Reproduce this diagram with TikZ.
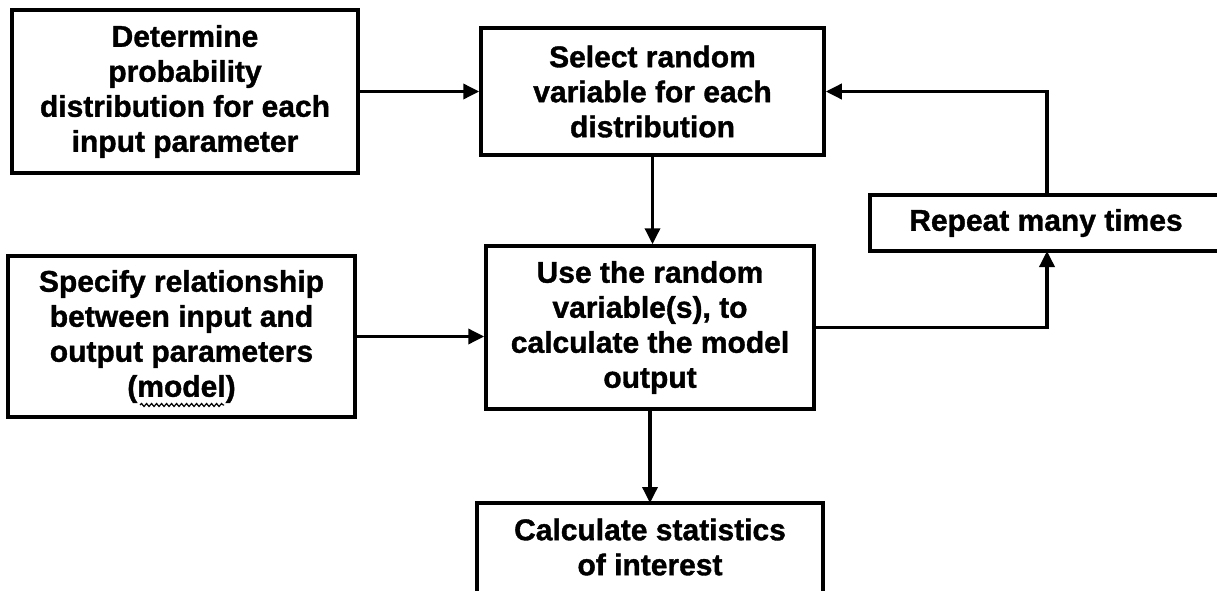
\documentclass[tikz,border=0pt]{standalone}
\usepackage{fontspec}
\setmainfont{Liberation Sans}[BoldFeatures={FakeBold=1.2}]
\usetikzlibrary{arrows.meta,decorations.pathmorphing}
\tikzset{
  flowbox/.style={draw, line width=3.5pt, align=center, inner sep=0pt,
    font=\fontsize{30}{35}\selectfont\bfseries},
  flowtext/.style={align=center, inner sep=0pt,
    font=\fontsize{30}{35}\selectfont\bfseries},
  edge/.style={line width=3.5pt},
  flowarrow/.style={line width=3.5pt, -{Triangle[length=16pt,width=15pt]}},
  squiggle/.style={line width=1.2pt, decorate,
    decoration={snake, amplitude=1.5pt, segment length=5pt}}
}
\begin{document}
\begin{tikzpicture}[x=1pt,y=-1pt]
\useasboundingbox (0,0) rectangle (1217,591);
% boxes
\node[flowbox, minimum width=346pt, minimum height=163pt] (det) at (185,91.5)
  {Determine\\probability\\distribution for each\\input parameter};
\node[flowbox, minimum width=343pt, minimum height=127pt] (sel) at (652.5,91.5)
  {Select random\\variable for each\\distribution};
\node[flowbox, minimum width=347pt, minimum height=161pt] (spec) at (181.5,336.5)
  {Specify relationship\\between input and\\output parameters\\(model)};
\node[flowbox, minimum width=328pt, minimum height=163pt] (use) at (650,327.5)
  {Use the random\\variable(s), to\\calculate the model\\output};
% spell-check squiggle under "model"
\coordinate (sqA) at (140,405);
\coordinate (sqB) at (224,405);
\draw[squiggle] (sqA) -- (sqB);
% repeat box (open at the right edge)
\node[flowtext] (rep) at (1046,223) {Repeat many times};
\coordinate (repTR) at (1217,195);
\coordinate (repTL) at (870,195);
\coordinate (repBL) at (870,251);
\coordinate (repBR) at (1217,251);
\draw[edge] (repTR) -- (repTL) -- (repBL) -- (repBR);
\coordinate (repB) at (1047,251);
\coordinate (repT) at (1047,195);
% statistics box (open at the bottom edge)
\node[flowtext] (stat) at (650,547) {Calculate statistics\\of interest};
\coordinate (statBL) at (477,591);
\coordinate (statTL) at (477,503);
\coordinate (statTR) at (823,503);
\coordinate (statBR) at (823,591);
\draw[edge] (statBL) -- (statTL) -- (statTR) -- (statBR);
\coordinate (statT) at (650,503);
% connectors
\draw[flowarrow] (det.east) -- (sel.west);
\draw[flowarrow] (sel.south) -- (sel.south |- use.north);
\draw[flowarrow] (spec.east) -- (use.west |- spec.east);
\draw[flowarrow] (use.east) -| (repB);
\draw[flowarrow] (repT) |- (sel.east);
\draw[flowarrow] (use.south) -- (statT);
\end{tikzpicture}
\end{document}
